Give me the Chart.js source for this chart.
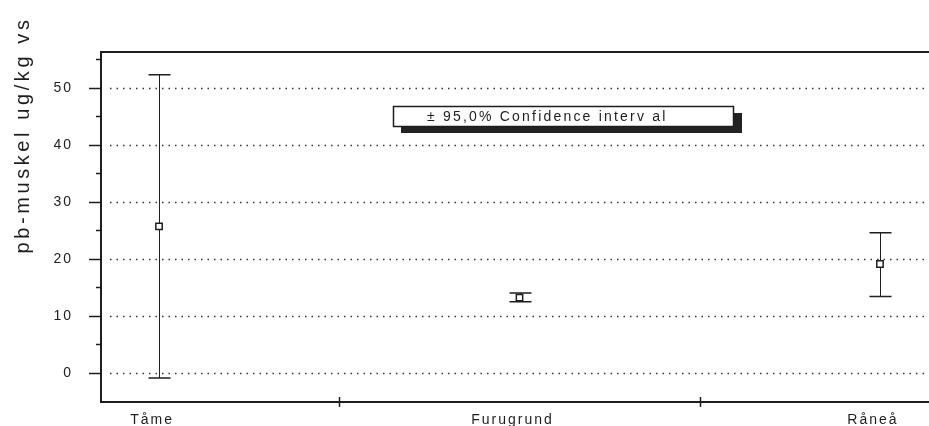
<!DOCTYPE html>
<html>
<head>
<meta charset="utf-8">
<script src="https://cdn.jsdelivr.net/npm/chart.js@4.4.0/dist/chart.umd.min.js"></script>
<style>
html, body { margin: 0; padding: 0; background: #fff; overflow: hidden; }
canvas { display: block; }
</style>
</head>
<body>
<canvas id="chart" width="929" height="426"></canvas>
<script>
// sites and the 95% confidence intervals
var sites = ["Tåme", "Furugrund", "Råneå"];
var means = [25.7, 13.2, 19.1];
var lower = [-0.9, 12.5, 13.4];
var upper = [52.3, 14.0, 24.6];
var yLabels = [0, 10, 20, 30, 40, 50];
var yTitle = "pb-muskel ug/kg vs";
var legendText = "± 95,0% Confidence interv al";

var ink = "#1e1e1e";
var fam = "'Liberation Sans', Arial, sans-serif";

var points = [];
for (var i = 0; i < sites.length; i++) {
    points.push({ x: i, y: means[i] });
}

// axes frame, dotted grid, tick marks, error bars, legend box
var paperPlugin = {
    id: "paper",
    beforeDraw: function(chart) {
        chart.ctx.letterSpacing = "2px";
    },
    beforeDatasetsDraw: function(chart) {
        var ctx = chart.ctx;
        var a = chart.chartArea;
        var xs = chart.scales.x, ys = chart.scales.y;
        ctx.save();
        ctx.letterSpacing = "0px";

        // dotted grid
        ctx.strokeStyle = "#333";
        ctx.lineWidth = 1.5;
        ctx.setLineDash([1.5, 5]);
        yLabels.forEach(function(v) {
            var y = Math.round(ys.getPixelForValue(v)) + 0.5;
            ctx.beginPath();
            ctx.moveTo(a.left + 9, y);
            ctx.lineTo(a.right, y);
            ctx.stroke();
        });
        ctx.setLineDash([]);

        // frame (top, left, bottom)
        ctx.strokeStyle = ink;
        ctx.lineWidth = 2;
        ctx.beginPath();
        ctx.moveTo(a.right, a.top);
        ctx.lineTo(a.left, a.top);
        ctx.lineTo(a.left, a.bottom);
        ctx.lineTo(a.right, a.bottom);
        ctx.stroke();

        // y tick marks every 5
        ctx.lineWidth = 1.5;
        for (var v = 0; v <= 55; v += 5) {
            var y = Math.round(ys.getPixelForValue(v)) + 0.5;
            var len = (v % 10 === 0) ? 12 : 5;
            ctx.beginPath();
            ctx.moveTo(a.left - len, y);
            ctx.lineTo(a.left, y);
            ctx.stroke();
        }

        // x tick marks between sites
        for (var k = 0; k < sites.length - 1; k++) {
            var x = Math.round(xs.getPixelForValue(k + 0.5)) + 0.5;
            ctx.beginPath();
            ctx.moveTo(x, a.bottom - 5);
            ctx.lineTo(x, a.bottom + 5);
            ctx.stroke();
        }

        // error bars
        for (var i = 0; i < sites.length; i++) {
            var cx = Math.round(xs.getPixelForValue(i)) + 0.5;
            var yt = ys.getPixelForValue(upper[i]);
            var yb = ys.getPixelForValue(lower[i]);
            ctx.lineWidth = 1;
            ctx.beginPath();
            ctx.moveTo(cx, yt);
            ctx.lineTo(cx, yb);
            ctx.stroke();
            ctx.lineWidth = 1.5;
            ctx.beginPath();
            ctx.moveTo(cx - 11, yt);
            ctx.lineTo(cx + 11, yt);
            ctx.moveTo(cx - 11, yb);
            ctx.lineTo(cx + 11, yb);
            ctx.stroke();
        }

        // legend box with drop shadow
        var bx = 393, by = 106, bw = 340, bh = 20;
        ctx.fillStyle = "#222";
        ctx.fillRect(bx + 8, by + 7, bw + 1, bh);
        ctx.fillStyle = "#fff";
        ctx.fillRect(bx, by, bw, bh);
        ctx.strokeStyle = ink;
        ctx.lineWidth = 1.5;
        ctx.strokeRect(bx + 0.5, by + 0.5, bw, bh);
        ctx.fillStyle = ink;
        ctx.font = "14px " + fam;
        ctx.letterSpacing = "2.2px";
        ctx.textBaseline = "middle";
        ctx.textAlign = "left";
        ctx.fillText(legendText, 427, by + bh / 2 + 1);

        // rotated axis title
        ctx.translate(23, 135);
        ctx.rotate(-Math.PI / 2);
        ctx.font = "20px " + fam;
        ctx.letterSpacing = "3.6px";
        ctx.textAlign = "center";
        ctx.fillText(yTitle, 0, 0);
        ctx.restore();
    }
};

function noPad(scale) {
    scale.paddingTop = 0;
    scale.paddingBottom = 0;
    scale.paddingLeft = 0;
    scale.paddingRight = 0;
}

var ctx = document.getElementById("chart");
new Chart(ctx, {
    type: "scatter",
    data: {
        datasets: [{
            data: points,
            pointStyle: "rect",
            pointRadius: 4.5,
            pointBackgroundColor: "#fff",
            pointBorderColor: ink,
            pointBorderWidth: 1.5,
            showLine: false
        }]
    },
    options: {
        responsive: false,
        animation: false,
        devicePixelRatio: 1,
        layout: { autoPadding: false, padding: { left: 0, top: 52, right: 0, bottom: 0 } },
        plugins: {
            legend: { display: false },
            tooltip: { enabled: false }
        },
        scales: {
            x: {
                type: "linear",
                min: -0.161,
                max: 2.136,
                grid: { display: false },
                border: { display: false },
                afterBuildTicks: function(scale) {
                    scale.ticks = sites.map(function(s, i) { return { value: i }; });
                },
                afterFit: function(scale) { scale.height = 24; noPad(scale); },
                ticks: {
                    padding: 2,
                    labelOffset: -7,
                    color: ink,
                    font: { family: fam, size: 14 },
                    callback: function(v) { return sites[v]; }
                }
            },
            y: {
                min: -5.1,
                max: 56.3,
                grid: { display: false },
                border: { display: false },
                afterBuildTicks: function(scale) {
                    scale.ticks = yLabels.map(function(v) { return { value: v }; });
                },
                afterFit: function(scale) { scale.width = 101; noPad(scale); },
                ticks: {
                    padding: 20,
                    color: ink,
                    font: { family: fam, size: 14 }
                }
            }
        }
    },
    plugins: [paperPlugin]
});
</script>
</body>
</html>
